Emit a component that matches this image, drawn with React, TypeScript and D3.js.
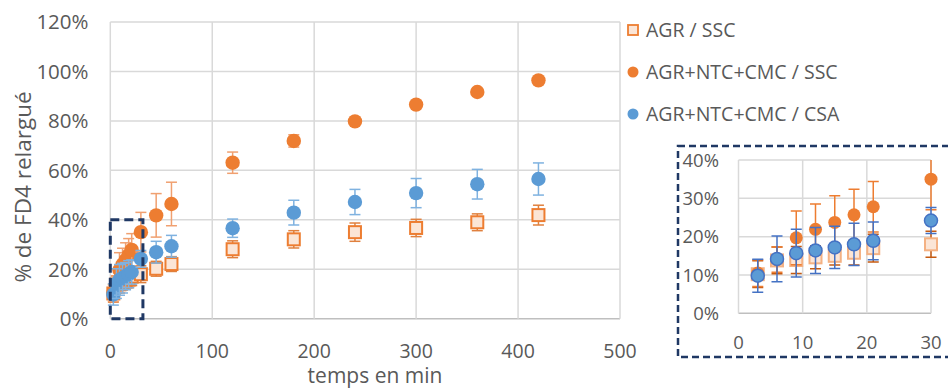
import React from "react";
import * as d3 from "d3";

const times = [3, 6, 9, 12, 15, 18, 21, 30, 45, 60, 120, 180, 240, 300, 360, 420];
const agrSsc = [10.2, 13.8, 13.9, 14.6, 15.0, 15.8, 17.0, 18.0, 20.2, 22.1, 28.1, 32.1, 35.0, 36.7, 39.0, 41.9];
const agrSscErr = [3.5, 3.5, 3.5, 3.0, 2.4, 3.2, 3.6, 3.4, 3.0, 3.0, 3.4, 3.5, 3.7, 3.5, 3.4, 4.0];
const ntcSsc = [10.5, 14.0, 19.7, 21.9, 23.7, 25.7, 27.8, 35.0, 41.8, 46.4, 63.1, 71.9, 79.8, 86.6, 91.7, 96.4];
const ntcSscErr = [3.5, 3.3, 7.0, 6.6, 7.0, 6.7, 6.6, 8.0, 8.8, 8.8, 4.3, 2.5, 0.8, 0.8, 0.8, 0.8];
const ntcCsa = [9.8, 14.2, 15.7, 16.4, 17.2, 18.0, 18.9, 24.2, 26.9, 29.3, 36.6, 42.9, 47.2, 50.8, 54.4, 56.5];
const ntcCsaErr = [4.3, 6.0, 6.2, 6.0, 5.5, 5.5, 4.9, 3.4, 4.4, 4.4, 3.7, 5.0, 5.1, 5.9, 6.0, 6.5];

const seriesNames = ["AGR / SSC", "AGR+NTC+CMC / SSC", "AGR+NTC+CMC / CSA"];
const yTicks = [0, 20, 40, 60, 80, 100, 120];
const xTicks = [0, 100, 200, 300, 400, 500];
const yTicksInset = [0, 10, 20, 30, 40];
const xTicksInset = [0, 10, 20, 30];

const ORANGE = "#ED7D31";
const BLUE = "#5B9BD5";
const SQFILL = "#FBE5D6";
const NAVY = "#1F3864";
const GRID = "#D9D9D9";
const TXT = "#595959";
const FONT = "'Open Sans', 'Noto Sans', sans-serif";

type S = { vals: number[]; err: number[]; kind: "sq" | "dot"; color: string; errColor: string; insetErr: string; insetStroke?: string };

const series: S[] = [
  { vals: agrSsc, err: agrSscErr, kind: "sq", color: ORANGE, errColor: "#E0803E", insetErr: "#C55A11" },
  { vals: ntcSsc, err: ntcSscErr, kind: "dot", color: ORANGE, errColor: "#F0A070", insetErr: ORANGE },
  { vals: ntcCsa, err: ntcCsaErr, kind: "dot", color: BLUE, errColor: "#7FB2E0", insetErr: "#4472C4", insetStroke: "#4472C4" },
];

function Marks({ x, y, inset, r, sq }: { x: d3.ScaleLinear<number, number>; y: d3.ScaleLinear<number, number>; inset: boolean; r: number; sq: number }) {
  const idx = times.map((_, i) => i).filter((i) => !inset || times[i] <= 30);
  return (
    <g>
      {series.map((s, si) => (
        <g key={si}>
          {idx.map((i) => {
            const cx = x(times[i]);
            const cy = y(s.vals[i]);
            const top = y(s.vals[i] + s.err[i]);
            const bot = y(s.vals[i] - s.err[i]);
            const ec = inset ? s.insetErr : s.errColor;
            return (
              <g key={i}>
                <line x1={cx} x2={cx} y1={top} y2={bot} stroke={ec} strokeWidth={1.5} />
                <line x1={cx - 5.5} x2={cx + 5.5} y1={top} y2={top} stroke={ec} strokeWidth={1.5} />
                <line x1={cx - 5.5} x2={cx + 5.5} y1={bot} y2={bot} stroke={ec} strokeWidth={1.5} />
                {s.kind === "sq" ? (
                  <rect x={cx - sq / 2} y={cy - sq / 2} width={sq} height={sq} fill={SQFILL} stroke={inset ? "#F4B183" : ORANGE} strokeWidth={2} />
                ) : (
                  <circle cx={cx} cy={cy} r={r} fill={s.color} stroke={inset && s.insetStroke ? s.insetStroke : "none"} strokeWidth={inset && s.insetStroke ? 1.5 : 0} />
                )}
              </g>
            );
          })}
        </g>
      ))}
    </g>
  );
}

export default function App() {
  const W = 948, H = 390;
  const x = d3.scaleLinear().domain([0, 500]).range([110.3, 620]);
  const y = d3.scaleLinear().domain([0, 120]).range([318.7, 22]);
  const xi = d3.scaleLinear().domain([0, 30]).range([738.5, 931]);
  const yi = d3.scaleLinear().domain([0, 40]).range([313.3, 160]);

  return (
    <svg width={W} height={H} style={{ position: "absolute", left: 0, top: 0, background: "#fff" }} fontFamily={FONT}>
      <defs>
        <clipPath id="insetClip">
          <rect x={xi(0) - 10} y={yi(40)} width={xi(30) - xi(0) + 20} height={yi(0) - yi(40) + 10} />
        </clipPath>
      </defs>
      {/* main gridlines */}
      {yTicks.map((t) => (
        <line key={"gy" + t} x1={x(0)} x2={x(500)} y1={y(t)} y2={y(t)} stroke={t === 0 ? "#BFBFBF" : GRID} strokeWidth={1.5} />
      ))}
      {xTicks.map((t) => (
        <line key={"gx" + t} x1={x(t)} x2={x(t)} y1={y(0)} y2={y(120)} stroke={GRID} strokeWidth={1.5} />
      ))}
      {yTicks.map((t) => (
        <text key={"ty" + t} x={88.5} y={y(t)} dy="0.36em" textAnchor="end" fontSize={20.5} fill={TXT}>{t}%</text>
      ))}
      {xTicks.map((t) => (
        <text key={"tx" + t} x={x(t)} y={351} dy="0.36em" textAnchor="middle" fontSize={19.5} fill={TXT}>{t}</text>
      ))}
      <text x={375} y={377} dy="0.3em" textAnchor="middle" fontSize={21} fill={TXT}>temps en min</text>
      <text transform={`translate(23,187) rotate(-90)`} dy="0.35em" textAnchor="middle" fontSize={22.5} fill={TXT}>% de FD4 relargué</text>

      <Marks x={x} y={y} inset={false} r={7.2} sq={12} />

      {/* zoom box in main chart */}
      <rect x={x(0)} y={y(40)} width={x(32) - x(0)} height={y(0) - y(40)} fill="none" stroke={NAVY} strokeWidth={3} strokeDasharray="9,5" />

      {/* legend */}
      {seriesNames.map((n, i) => {
        const ly = 30 + i * 42;
        const s = series[i];
        return (
          <g key={n}>
            {s.kind === "sq" ? (
              <rect x={628} y={ly - 5} width={10} height={10} fill={SQFILL} stroke={ORANGE} strokeWidth={1.8} />
            ) : (
              <circle cx={633} cy={ly} r={5.5} fill={s.color} />
            )}
            <text x={646} y={ly} dy="0.36em" fontSize={19.5} fill={TXT}>{n}</text>
          </g>
        );
      })}

      {/* inset */}
      <rect x={678} y={146} width={290} height={211} fill="#fff" stroke={NAVY} strokeWidth={2.5} strokeDasharray="7,4" />
      {yTicksInset.map((t) => (
        <line key={"igy" + t} x1={xi(0)} x2={xi(30)} y1={yi(t)} y2={yi(t)} stroke={t === 0 ? "#BFBFBF" : GRID} strokeWidth={1.5} />
      ))}
      {xTicksInset.map((t) => (
        <line key={"igx" + t} x1={xi(t)} x2={xi(t)} y1={yi(0)} y2={yi(40)} stroke={GRID} strokeWidth={1.5} />
      ))}
      {yTicksInset.map((t) => (
        <text key={"ity" + t} x={719} y={yi(t)} dy="0.36em" textAnchor="end" fontSize={18.5} fill={TXT}>{t}%</text>
      ))}
      {xTicksInset.map((t) => (
        <text key={"itx" + t} x={xi(t)} y={342} dy="0.36em" textAnchor="middle" fontSize={18.5} fill={TXT}>{t}</text>
      ))}
      <g clipPath="url(#insetClip)">
        <Marks x={xi} y={yi} inset={true} r={6.5} sq={12} />
      </g>
    </svg>
  );
}
